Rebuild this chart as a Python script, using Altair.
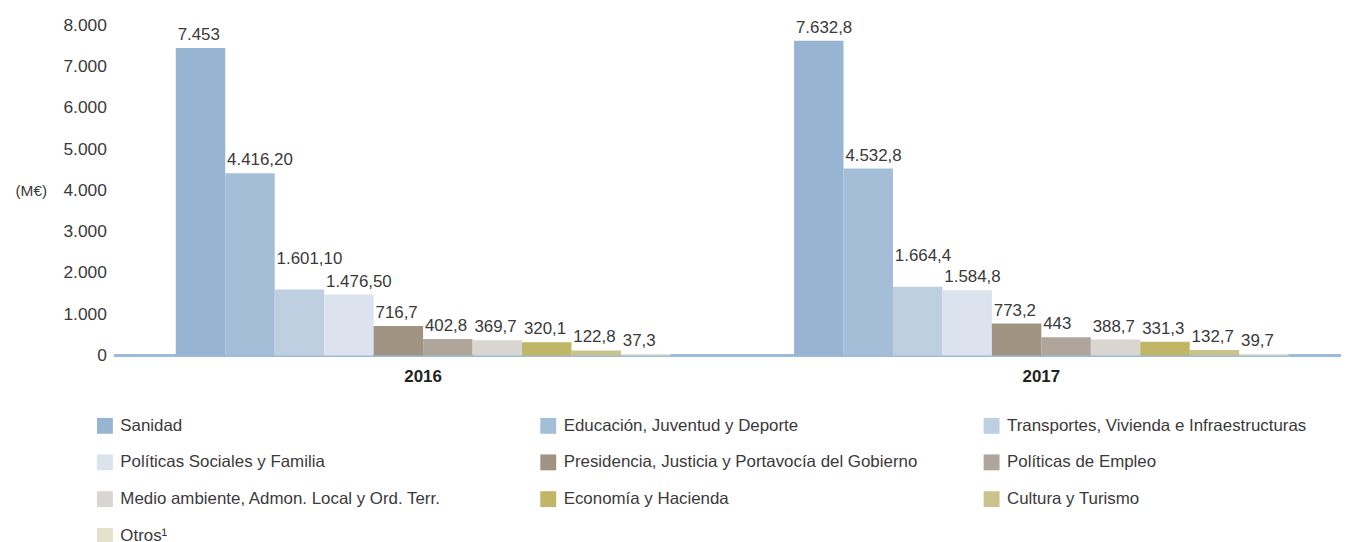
import altair as alt
import pandas as pd

years = ["2016", "2017"]
categories = [
    "Sanidad",
    "Educación, Juventud y Deporte",
    "Transportes, Vivienda e Infraestructuras",
    "Políticas Sociales y Familia",
    "Presidencia, Justicia y Portavocía del Gobierno",
    "Políticas de Empleo",
    "Medio ambiente, Admon. Local y Ord. Terr.",
    "Economía y Hacienda",
    "Cultura y Turismo",
    "Otros¹",
]
colors = ["#97b5d3", "#a4bed8", "#bfcfe2", "#dce3ee", "#a09382",
          "#b0a59a", "#d9d5d1", "#c1b566", "#cbc38c", "#e6e1cc"]
values_2016 = [7453, 4416.2, 1601.1, 1476.5, 716.7, 402.8, 369.7, 320.1, 122.8, 37.3]
values_2017 = [7632.8, 4532.8, 1664.4, 1584.8, 773.2, 443, 388.7, 331.3, 132.7, 39.7]
labels_2016 = ["7.453", "4.416,20", "1.601,10", "1.476,50", "716,7", "402,8", "369,7", "320,1", "122,8", "37,3"]
labels_2017 = ["7.632,8", "4.532,8", "1.664,4", "1.584,8", "773,2", "443", "388,7", "331,3", "132,7", "39,7"]
y_ticks = [0, 1000, 2000, 3000, 4000, 5000, 6000, 7000, 8000]

rows = []
for yr, vals, labs in [(years[0], values_2016, labels_2016), (years[1], values_2017, labels_2017)]:
    for c, v, l in zip(categories, vals, labs):
        rows.append({"year": yr, "category": c, "value": v, "label": l})
df = pd.DataFrame(rows)

FONT = "Liberation Sans"
TXT = "#3a3a3a"
RAISED = categories[2]

x_enc = alt.X("year:N", title=None, sort=years,
              scale=alt.Scale(paddingInner=0.2, paddingOuter=0.092, align=0.54),
              axis=alt.Axis(labelAngle=0, labelFontWeight="bold", labelFontSize=17,
                            labelColor="#222222", ticks=False, labelPadding=13,
                            domain=False, grid=False))
xoff = alt.XOffset("category:N", sort=categories)
y_enc = alt.Y("value:Q", scale=alt.Scale(domain=[0, 8000], nice=False),
              axis=alt.Axis(values=y_ticks,
                            labelExpr="replace(format(datum.value, ',d'), ',', '.')",
                            domain=False, ticks=False, labelPadding=8,
                            labelFontSize=17.5, labelColor=TXT,
                            gridColor="#c6d6e6", gridWidth=1,
                            title="(M€)", titleAngle=0, titleX=-100, titleY=166,
                            titleAlign="left", titleBaseline="middle",
                            titleFontWeight="normal", titleFontSize=15.5,
                            titleColor=TXT))

baseline = alt.Chart(df).mark_rule(color="#9dbbd9", strokeWidth=1.5).encode(
    y=alt.datum(0)
)

bars = alt.Chart(df).mark_bar().encode(
    x=x_enc,
    xOffset=xoff,
    y=y_enc,
    color=alt.Color("category:N", sort=categories,
                    scale=alt.Scale(domain=categories, range=colors),
                    legend=alt.Legend(title=None, orient="none", legendX=-18, legendY=394,
                                      direction="horizontal",
                                      columns=3, gridAlign="all", columnPadding=65,
                                      rowPadding=19, symbolType="square", symbolSize=256,
                                      symbolStrokeWidth=0, labelFontSize=17,
                                      labelColor=TXT, labelLimit=600,
                                      labelOffset=7, padding=0)),
)

texts = alt.Chart(df).transform_filter(
    alt.datum.category != RAISED
).mark_text(baseline="alphabetic", align="left", dx=-23, dy=-8, fontSize=17,
            color=TXT, font=FONT).encode(
    x=x_enc,
    xOffset=xoff,
    y="value:Q",
    text="label:N",
)

texts_raised = alt.Chart(df).transform_filter(
    alt.datum.category == RAISED
).mark_text(baseline="alphabetic", align="left", dx=-23, dy=-26, fontSize=17,
            color=TXT, font=FONT).encode(
    x=x_enc,
    xOffset=xoff,
    y="value:Q",
    text="label:N",
)

chart = alt.layer(baseline, bars, texts, texts_raised).properties(
    width=1234, height=332,
    autosize=alt.AutoSizeParams(type="none"),
    padding={"left": 107, "top": 16, "right": 0, "bottom": 186},
).configure(font=FONT).configure_view(stroke=None).configure_axis(
    labelFont=FONT, titleFont=FONT
).configure_legend(labelFont=FONT)

chart.save("out.html", embed_options={"renderer": "svg", "actions": False})
